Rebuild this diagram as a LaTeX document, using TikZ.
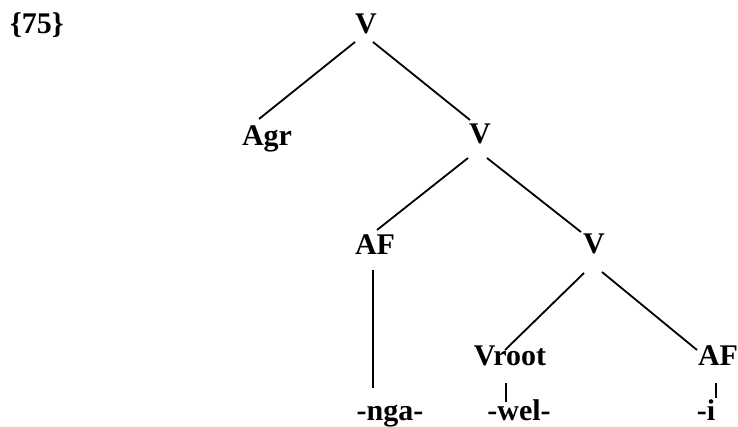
\documentclass[tikz,border=0pt]{standalone}
\usepackage{fontspec}
\setmainfont{Liberation Serif}
\begin{document}
\begin{tikzpicture}[x=1pt,y=-1pt,
  lab/.style={anchor=base,inner sep=0pt,font=\fontsize{30}{36}\selectfont\bfseries},
  edge/.style={line width=1.8pt}]
\useasboundingbox (0,0) rectangle (738,426);
\node[lab] (num) at (37,33) {\{75\}};
\node[lab] (V1) at (366,33) {V};
\node[lab] (Agr) at (267,145) {Agr};
\node[lab] (V2) at (480,143) {V};
\node[lab] (AF1) at (375,254) {AF};
\node[lab] (V3) at (594,253) {V};
\node[lab] (Vroot) at (510,365) {Vroot};
\node[lab] (AF2) at (718,365) {AF};
\node[lab] (nga) at (390,420) {-nga-};
\node[lab] (wel) at (519,420) {-wel-};
\node[lab] (i) at (706,420) {-i};
\draw[edge] ([shift={(-11,9)}]V1.base) -- ([shift={(-8,-26)}]Agr.base);
\draw[edge] ([shift={(7,9)}]V1.base) -- ([shift={(-10,-23)}]V2.base);
\draw[edge] ([shift={(-12,15)}]V2.base) -- ([shift={(2,-24)}]AF1.base);
\draw[edge] ([shift={(7,15)}]V2.base) -- ([shift={(-13,-21)}]V3.base);
\draw[edge] ([shift={(-2,16)}]AF1.base) -- ([shift={(-17,-32)}]nga.base);
\draw[edge] ([shift={(-10,20)}]V3.base) -- ([shift={(-5,-15)}]Vroot.base);
\draw[edge] ([shift={(8,19)}]V3.base) -- ([shift={(-21,-15)}]AF2.base);
\draw[edge] ([shift={(-4,18)}]Vroot.base) -- ([shift={(-13,-18)}]wel.base);
\draw[edge] ([shift={(-2,18)}]AF2.base) -- ([shift={(10,-22)}]i.base);
\end{tikzpicture}
\end{document}
